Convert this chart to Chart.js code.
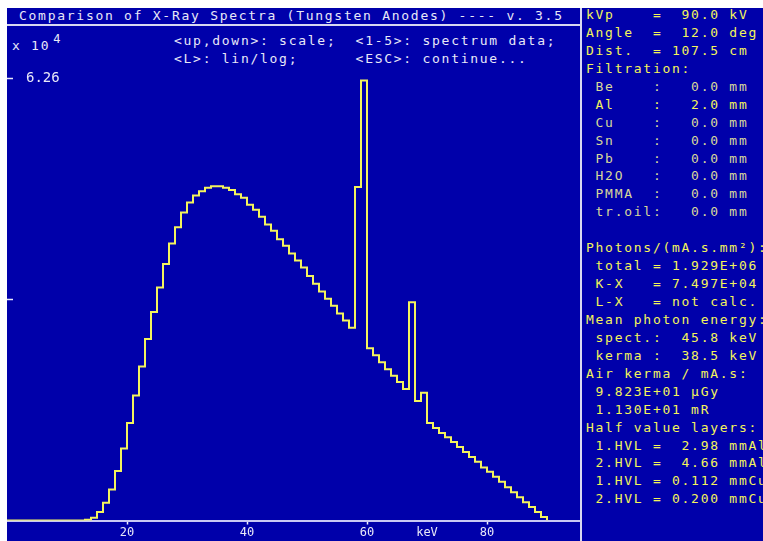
<!DOCTYPE html>
<html>
<head>
<meta charset="utf-8">
<script src="https://cdn.jsdelivr.net/npm/chart.js@4.4.1/dist/chart.umd.min.js"></script>
<style>
body { margin:0; background:#fff; width:763px; height:541px; overflow:hidden; position:relative; font-family:"DejaVu Sans Mono", monospace; }
.box { position:absolute; background:#0000aa; }
#left { left:7px; top:8px; width:573px; height:533px; }
#right { left:582px; top:8px; width:181px; height:533px; }
.line { position:absolute; background:#d8d8f0; }
.txt { position:absolute; white-space:pre; font-size:13px; letter-spacing:1.73px; color:#e8e8f8; line-height:18px; }
#panel { left:586px; top:6px; width:177px; height:530px; overflow:hidden; color:#f4f45a; line-height:17.93px; }
#panel .dim { color:#d8d89a; }
#chart { position:absolute; left:7px; top:26px; }
sup { font-size:12px; position:relative; top:-2px; margin-left:3px; }
</style>
</head>
<body>
<div class="box" id="left"></div>
<div class="box" id="right"></div>
<div class="line" style="left:7px;top:24px;width:573px;height:2px"></div>
<div class="line" style="left:580px;top:8px;width:2px;height:533px"></div>

<div class="txt" style="left:19px;top:7px">Comparison of X-Ray Spectra (Tungsten Anodes) ---- v. 3.5</div>
<div class="txt" style="left:12px;top:32px">x 10<sup>4</sup></div>
<div class="txt" style="left:174px;top:32px">&lt;up,down&gt;: scale;  &lt;1-5&gt;: spectrum data;
&lt;L&gt;: lin/log;      &lt;ESC&gt;: continue...</div>

<div class="txt" id="panel">kVp    =  90.0 kV
Angle  =  12.0 deg
Dist.  = 107.5 cm
Filtration:
<span class="dim"> Be    :   0.0 mm</span>
 Al    :   2.0 mm
<span class="dim"> Cu    :   0.0 mm
 Sn    :   0.0 mm
 Pb    :   0.0 mm
 H2O   :   0.0 mm
 PMMA  :   0.0 mm
 tr.oil:   0.0 mm</span>

Photons/(mA.s.mm²):
 total = 1.929E+06
 K-X   = 7.497E+04
 L-X   = not calc.
Mean photon energy:
 spect.:  45.8 keV
 kerma :  38.5 keV
Air kerma / mA.s:
 9.823E+01 µGy
 1.130E+01 mR
Half value layers:
 1.HVL =  2.98 mmAl
 2.HVL =  4.66 mmAl
 1.HVL = 0.112 mmCu
 2.HVL = 0.200 mmCu</div>

<canvas id="chart" width="573" height="515"></canvas>

<script>
// spectrum: 1 keV bins, lower edge of each bin, photons in units of 10^4
var binStart = [0, 1, 2, 3, 4, 5, 6, 7, 8, 9, 10, 11, 12, 13, 14, 15, 16, 17, 18, 19,
    20, 21, 22, 23, 24, 25, 26, 27, 28, 29, 30, 31, 32, 33, 34, 35, 36, 37, 38, 39,
    40, 41, 42, 43, 44, 45, 46, 47, 48, 49, 50, 51, 52, 53, 54, 55, 56, 57, 58, 59,
    60, 61, 62, 63, 64, 65, 66, 67, 68, 69, 70, 71, 72, 73, 74, 75, 76, 77, 78, 79,
    80, 81, 82, 83, 84, 85, 86, 87, 88, 89, 90];
var photons = [0, 0, 0, 0, 0, 0, 0, 0, 0, 0, 0, 0, 0, 0.01, 0.04, 0.12, 0.25, 0.44, 0.70, 1.02,
    1.38, 1.77, 2.18, 2.57, 2.95, 3.30, 3.63, 3.92, 4.15, 4.36, 4.50, 4.60, 4.66, 4.71, 4.73, 4.73, 4.71, 4.68, 4.62, 4.57,
    4.47, 4.40, 4.30, 4.19, 4.10, 3.98, 3.89, 3.78, 3.68, 3.58, 3.46, 3.35, 3.24, 3.14, 3.04, 2.93, 2.83, 2.73, 4.72, 6.23,
    2.44, 2.34, 2.24, 2.14, 2.05, 1.96, 1.86, 3.09, 1.69, 1.81, 1.38, 1.31, 1.24, 1.18, 1.11, 1.04, 0.97, 0.90, 0.83, 0.75,
    0.69, 0.62, 0.55, 0.47, 0.40, 0.33, 0.26, 0.19, 0.12, 0.05, 0];
var xTickValues = [20, 40, 60, 70, 80];
var xTickLabels = ["20", "40", "60", "keV", "80"];
var yTickValues = [3.13, 6.26];
var yTickLabels = ["", "6.26"];

var points = [];
binStart.forEach((e, i) => {
    points.push({ x: e, y: photons[i] });
});

// short marks on the left edge for the y ticks
var yTickMarks = {
    id: 'yTickMarks',
    afterDraw(chart) {
        var sc = chart.scales.y;
        var ctx = chart.ctx;
        var left = chart.chartArea.left;
        ctx.save();
        ctx.strokeStyle = '#e8e8f8';
        ctx.lineWidth = 1.5;
        sc.ticks.forEach(t => {
            var py = Math.round(sc.getPixelForValue(t.value)) + 0.5;
            ctx.beginPath();
            ctx.moveTo(left, py);
            ctx.lineTo(left + 6, py);
            ctx.stroke();
        });
        ctx.restore();
    }
};

function noPad(sc) {
    sc.paddingTop = 0;
    sc.paddingBottom = 0;
    sc.paddingLeft = 0;
    sc.paddingRight = 0;
}

var myChart = new Chart(document.getElementById('chart'), {
    type: 'line',
    data: {
        datasets: [{
            data: points,
            stepped: 'before',
            borderColor: '#f4f45c',
            borderWidth: 2,
            pointRadius: 0,
            fill: false
        }]
    },
    options: {
        responsive: false,
        animation: false,
        layout: { padding: 0 },
        plugins: { legend: { display: false }, tooltip: { enabled: false } },
        scales: {
            x: {
                type: 'linear',
                min: 0,
                max: 95.5,
                afterBuildTicks: sc => { sc.ticks = xTickValues.map(v => ({ value: v })); },
                afterFit: sc => { sc.height = 20.5; noPad(sc); },
                border: { display: true, color: '#c8c8f4', width: 2 },
                grid: {
                    drawOnChartArea: false,
                    tickLength: 4,
                    tickWidth: 1.5,
                    tickColor: c => (c.tick && c.tick.value === 70) ? 'rgba(0,0,0,0)' : '#f0f0ff'
                },
                ticks: {
                    padding: 1,
                    maxRotation: 0,
                    autoSkip: false,
                    color: '#e8e8f8',
                    font: { family: 'DejaVu Sans Mono', size: 12 },
                    callback: (v, i) => xTickLabels[i]
                }
            },
            y: {
                min: 0,
                max: 7.0,
                afterBuildTicks: sc => { sc.ticks = yTickValues.map(v => ({ value: v })); },
                afterFit: sc => { sc.width = 0; noPad(sc); },
                border: { display: false },
                grid: { display: false },
                ticks: {
                    mirror: true,
                    padding: 19,
                    color: '#e8e8f8',
                    font: { family: 'DejaVu Sans Mono', size: 14 },
                    callback: (v, i) => yTickLabels[i]
                }
            }
        }
    },
    plugins: [yTickMarks]
});
</script>
</body>
</html>
